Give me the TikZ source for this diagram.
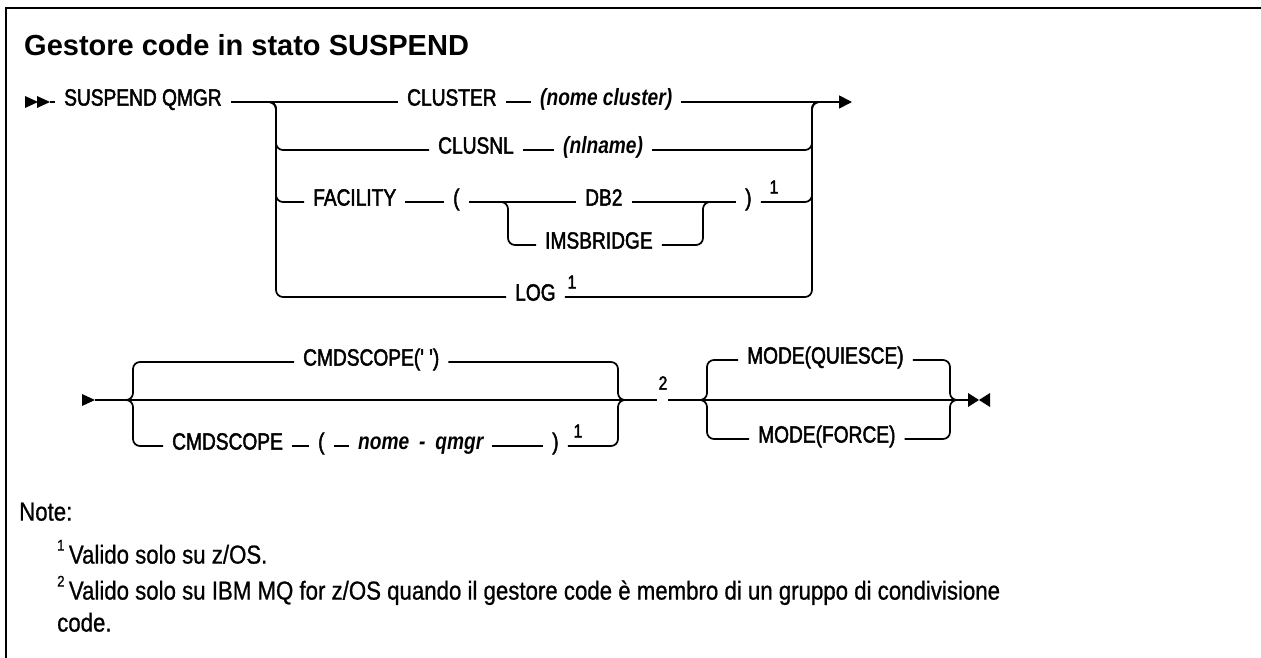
\documentclass[tikz,border=0pt]{standalone}
\usepackage{fontspec}
\setmainfont{Liberation Sans}
\newfontfamily\rrfont[FakeStretch=0.815, FakeBold=2]{Liberation Sans}
\newfontfamily\varfont[FakeStretch=0.815]{Liberation Sans}
\newfontfamily\notefont[FakeStretch=0.855, FakeBold=0.8]{Liberation Sans}
\usetikzlibrary{arrows.meta}
\tikzset{
  ln/.style={line width=1.7pt},
  rail/.style={ln, rounded corners=7pt},
  kw/.style={anchor=west, inner xsep=9pt, inner ysep=0pt, text height=0.72em, text depth=0pt,
    font=\rrfont\fontsize{23.5}{26}\selectfont},
  var/.style={kw, font=\varfont\fontsize{23.5}{26}\selectfont\bfseries\itshape},
  fn/.style={inner sep=0pt, font=\rrfont\fontsize{19}{20}\selectfont},
  note/.style={anchor=west, inner sep=0pt, text height=0.72em, text depth=0pt,
    font=\notefont\fontsize{26}{30}\selectfont},
}
\newcommand{\notemark}[1]{\raisebox{.5em}{\fontsize{15.5}{15}\selectfont #1}\,}

\begin{document}
\begin{tikzpicture}[x=1pt, y=-1pt]
  \useasboundingbox (0,0) rectangle (1261,658);
  \draw[line width=2pt] (6,658) -- (6,8) -- (1261,8);
  \node[anchor=west, inner sep=0pt, text height=0.72em, text depth=0pt,
    font=\fontsize{29}{32}\selectfont\bfseries] (title) at (24,52) {Gestore code in stato SUSPEND};

  % first line
  \foreach \x in {25,37} \fill (\x,96) -- (\x+13,102) -- (\x,108) -- cycle;
  \coordinate (st1) at (50,102);
  \node[kw] (sus) at (55,102) {SUSPEND QMGR};
  \node[kw] (cluster) at (398,102) {CLUSTER};
  \node[var] (ncluster) at (531,102) {(nome cluster)};
  \node[kw] (clusnl) at (429,150) {CLUSNL};
  \node[var] (nlname) at (554,150) {(nlname)};
  \node[kw] (facility) at (304,202) {FACILITY};
  \node[kw] (lpar) at (444,202) {(};
  \node[kw] (db2) at (576,202) {DB2};
  \node[kw] (ims) at (536,245) {IMSBRIDGE};
  \node[kw] (rpar) at (736,202) {)};
  \node[fn] (fn1) at (774,187) {1};
  \node[kw] (log) at (506,297) {LOG};
  \node[fn] (fn2) at (572,282) {1};

  \coordinate (l1) at (276,102);
  \coordinate (r1) at (812,102);
  \coordinate (end1) at (852,102);
  \draw[ln] (st1) -- (sus.west);
  \draw[ln] (sus.east) -- (cluster.west);
  \draw[ln] (cluster.east) -- (ncluster.west);
  \draw[ln, -{Triangle[length=13pt, width=13pt]}] (ncluster.east) -- (end1);
  \draw[ln] (clusnl.east) -- (nlname.west);
  \draw[ln] (facility.east) -- (lpar.west);
  \draw[ln] (lpar.east) -- (db2.west);
  \draw[ln] (db2.east) -- (rpar.west);
  \foreach \n in {clusnl,facility,log} \draw[rail] (262,102) -- (l1) |- (\n.west);
  \foreach \n in {nlname,rpar,log} \draw[rail] (\n.east) -| (r1) -- (826,102);

  \coordinate (l2) at (508,202);
  \coordinate (r2) at (703,202);
  \draw[rail] (494,202) -- (l2) |- (ims.west);
  \draw[rail] (ims.east) -| (r2) -- (717,202);

  % second line
  \fill (82,394) -- (95,400) -- (82,406) -- cycle;
  \coordinate (st2) at (95,400);
  \node[kw] (cmdq) at (294,362) {CMDSCOPE(' ')};
  \node[kw] (cmd) at (163,446) {CMDSCOPE};
  \node[kw] (lpar2) at (309,446) {(};
  \node[var] (qmgr) at (349,446) {nome\hspace{.42em}-\hspace{.42em}qmgr};
  \node[kw] (rpar2) at (543,446) {)};
  \node[fn] (fn3) at (578,431) {1};
  \node[fn] (fn4) at (663,383) {2};
  \node[kw] (modeq) at (738,360) {MODE(QUIESCE)};
  \node[kw] (modef) at (749,439) {MODE(FORCE)};

  \coordinate (l3) at (133,400);
  \coordinate (r3) at (618,400);
  \coordinate (l4) at (707,400);
  \coordinate (r4) at (950,400);
  \coordinate (gapa) at (657,400);
  \coordinate (gapb) at (668,400);
  \coordinate (end2) at (968,400);
  \draw[ln] (st2) -- (gapa);
  \draw[ln] (gapb) -- (end2);
  \draw[ln] (cmd.east) -- (lpar2.west);
  \draw[ln] (lpar2.east) -- (qmgr.west);
  \draw[ln] (qmgr.east) -- (rpar2.west);
  \foreach \n in {cmdq,cmd} \draw[rail] (119,400) -- (l3) |- (\n.west);
  \foreach \n in {cmdq,rpar2} \draw[rail] (\n.east) -| (r3) -- (632,400);
  \foreach \n in {modeq,modef} \draw[rail] (693,400) -- (l4) |- (\n.west);
  \foreach \n in {modeq,modef} \draw[rail] (\n.east) -| (r4) -- (964,400);
  \fill (968,393) -- (979,400) -- (968,407) -- cycle;
  \fill (990,393) -- (979,400) -- (990,407) -- cycle;

  % notes
  \node[note] (note) at (19,517) {Note:};
  \node[note] (n1) at (57,560) {\notemark{1}Valido solo su z/OS.};
  \node[note] (n2) at (57,596) {\notemark{2}Valido solo su IBM MQ for z/OS quando il gestore code è membro di un gruppo di condivisione};
  \node[note] (n3) at (57,628) {code.};
\end{tikzpicture}
\end{document}
